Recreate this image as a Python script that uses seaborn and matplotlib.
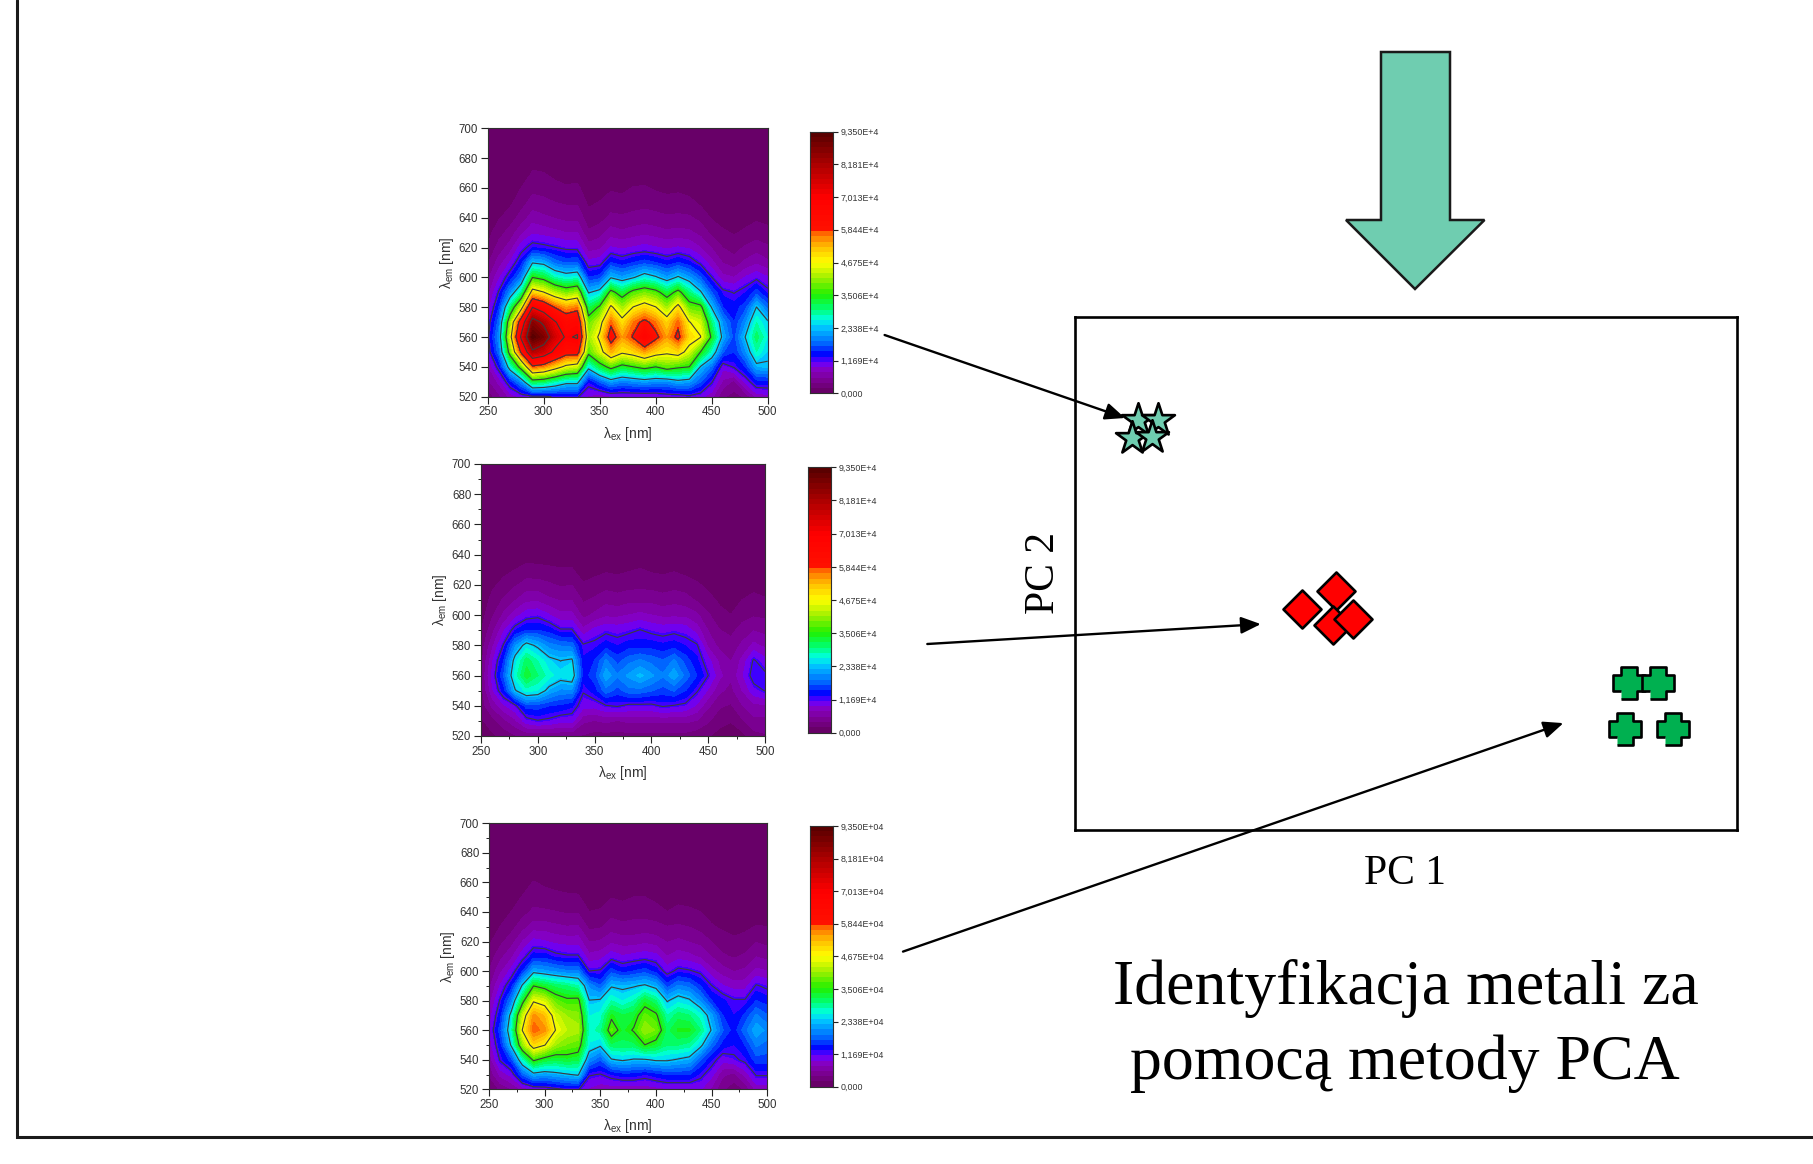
import numpy as np
import pandas as pd
import matplotlib
matplotlib.use("Agg")
import matplotlib.pyplot as plt
import seaborn as sns
from matplotlib.colors import LinearSegmentedColormap
from matplotlib.patches import Polygon
from matplotlib.ticker import MultipleLocator

W, H = 1813, 1164

# excitation / emission grid [nm]
ex = [250, 260, 270, 280, 290, 300, 310, 320, 330, 340, 350, 360, 370,
      380, 390, 400, 410, 420, 430, 440, 450, 460, 470, 480, 490, 500]
em = [520, 530, 540, 550, 560, 570, 580, 590, 600, 610, 620, 630, 640, 650, 660, 670, 700]

# intensity in units of 1E+3, one line per excitation wavelength
sample_a = [
    [2.5, 5, 7, 10, 11, 10, 8, 6.5, 5, 3.5, 2.0, 1.2, .6, .2, 0, 0, 0],
    [5, 8, 13, 18, 20, 18, 15, 12, 9, 6.5, 4.5, 3, 1.7, .8, .2, 0, 0],
    [8, 14, 26, 38, 44, 40, 30, 20, 13.5, 9.5, 6.5, 4.5, 2.8, 1.5, .6, .1, 0],
    [10, 20, 38, 60, 72, 64, 44, 29, 19, 14, 10.5, 7, 4.5, 3, 1.9, .8, 0],
    [11, 32, 57, 80, 93, 86, 70, 50, 35, 23, 13, 9, 6.6, 4.5, 3.2, 2, 0],
    [11, 31, 55, 76, 88, 80, 65, 47, 33, 22, 12.5, 8.5, 6, 4.2, 3, 1.9, 0],
    [12, 28, 50, 68, 76, 71, 58, 42, 28, 18, 11.8, 8, 5.5, 3.8, 2.5, 1.3, 0],
    [12, 25, 45, 62, 69, 64, 54, 39, 26, 16.5, 11, 7.5, 5, 3.5, 2.1, 1, 0],
    [12, 25, 43, 62, 71, 66, 56, 41, 27, 17, 10.8, 7.5, 5, 3.5, 2.3, 1, 0],
    [9, 13, 25, 37, 41, 38, 31, 23, 15, 10, 6.5, 4, 2.7, 1.5, .6, .1, 0],
    [8, 17, 32, 44, 48, 44, 36, 25, 16, 10.5, 7, 4.8, 3, 2, .9, .2, 0],
    [9, 21, 37, 53, 62, 57, 48, 37, 23, 15, 9.5, 6.5, 4.2, 2.8, 1.6, .4, 0],
    [9, 19, 33, 48, 54, 49, 41, 32, 21, 13.5, 9, 6, 4, 2.7, 1.3, .3, 0],
    [9, 20, 35, 50, 59, 56, 47, 37, 23, 15, 9.5, 6.5, 4.3, 3, 2, .6, 0],
    [9, 21, 37, 54, 67, 60, 50, 39, 26, 16, 10, 7, 4.5, 3.2, 2.1, .7, 0],
    [9, 20, 35, 50, 60, 56, 47, 37, 24, 15, 9.5, 6.5, 4.3, 2.9, 1.6, .4, 0],
    [10, 20, 38, 48, 54, 50, 41, 32, 21, 13.5, 9, 6, 4, 2.6, 1.3, .2, 0],
    [10, 22, 36, 50, 60, 57, 49, 37, 24, 15, 9.5, 6.3, 4.1, 2.8, 1.4, .3, 0],
    [11, 21, 35, 44, 50, 47, 38, 30, 21, 13.5, 9, 6, 4, 2.5, 1, .2, 0],
    [10, 17, 23, 35, 47, 44, 37, 24, 17, 11, 7.5, 5, 3.2, 1.5, .5, 0, 0],
    [8, 12, 18, 27, 34, 30, 23, 17, 11.8, 8, 5.5, 3.2, 1.7, .6, 0, 0, 0],
    [4, 7, 10, 17, 22, 20, 15, 12.5, 8, 5.5, 3.7, 2.2, 1, .3, 0, 0, 0],
    [3, 5, 12, 15, 16, 15, 14, 11.5, 7.5, 4.5, 3, 1.7, .7, 0, 0, 0, 0],
    [4, 10, 15, 20, 23.5, 20, 16, 13, 9.5, 6, 4, 2.2, 1.2, .3, 0, 0, 0],
    [8, 14, 22, 28, 31, 28, 23.5, 16, 11, 7, 4.8, 2.7, 1.6, .6, 0, 0, 0],
    [8.5, 14, 23, 24, 26, 24, 18, 12.5, 9.5, 6, 4, 2.4, 1.3, .4, 0, 0, 0],
]
sample_b = [
    [.5, 1.5, 2.5, 3, 3.5, 3, 2.5, 1.8, 1, .5, .1, 0, 0, 0, 0, 0, 0],
    [1.5, 3, 6, 9, 10, 9, 7, 5, 3.5, 2.5, 1.5, .7, .2, 0, 0, 0, 0],
    [2.5, 5, 9, 14, 17, 15, 12, 9, 6, 4, 2.5, 1.3, .4, 0, 0, 0, 0],
    [3.5, 7, 11, 23, 27, 25, 20, 13, 8.5, 5.5, 3.5, 1.9, .6, 0, 0, 0, 0],
    [4, 10.5, 16, 27, 33, 31, 25, 15, 10.5, 7, 4.5, 2.6, .8, 0, 0, 0, 0],
    [4, 11.5, 16, 26, 30, 28, 22.5, 15, 11, 7, 4.5, 2.5, .8, 0, 0, 0, 0],
    [4, 11, 15, 22, 27, 24.5, 19.5, 14, 9.5, 6, 4, 2.3, .6, 0, 0, 0, 0],
    [4, 10, 14.5, 20, 25, 23.3, 18.5, 12, 8, 5.5, 3.5, 2.1, .4, 0, 0, 0, 0],
    [4, 10, 13.5, 20, 26, 24, 18, 12, 8, 5.5, 3.7, 2.1, .4, 0, 0, 0, 0],
    [3.5, 6, 10, 12, 14, 13.5, 12, 8, 5, 3.5, 2.2, .4, 0, 0, 0, 0, 0],
    [3, 5.5, 10, 14, 16, 15, 12.5, 10, 6, 4, 2.8, 1, .1, 0, 0, 0, 0],
    [3, 6, 11.5, 18, 22, 19, 14, 11, 7, 5, 3, 1.6, .3, 0, 0, 0, 0],
    [3, 5.5, 12, 16, 19, 16, 13, 10.5, 7, 4.5, 2.8, 1.4, .2, 0, 0, 0, 0],
    [3, 6, 11, 18, 21, 18, 14, 11, 7.5, 5, 3, 1.7, .3, 0, 0, 0, 0],
    [3, 6, 11, 18, 23, 19, 14, 11.8, 8, 5, 3.2, 2, .4, 0, 0, 0, 0],
    [3, 6, 11, 17, 21, 18, 14, 11, 7.5, 5, 3, 1.6, .2, 0, 0, 0, 0],
    [3, 6, 12, 16, 19, 17, 13.5, 10.5, 7, 4.5, 2.8, 1.4, .1, 0, 0, 0, 0],
    [3, 6, 11.5, 17, 22, 19, 14, 11, 7, 5, 3, 1.7, .3, 0, 0, 0, 0],
    [3, 6, 11, 15, 18, 16, 13, 10.5, 7, 4.5, 2.8, 1.2, .1, 0, 0, 0, 0],
    [2.5, 5.5, 9, 12, 15, 13.5, 12, 8.5, 6, 3.5, 2.2, .8, 0, 0, 0, 0, 0],
    [2, 4, 6, 9, 11.7, 10, 7, 5.5, 4, 2.6, 1.3, .3, 0, 0, 0, 0, 0],
    [1.2, 2.5, 4, 6, 8, 7, 5, 3.8, 2.5, 1.5, .6, 0, 0, 0, 0, 0, 0],
    [.8, 2, 3.5, 5, 6, 5.5, 4.5, 3.2, 1.9, 1, .2, 0, 0, 0, 0, 0, 0],
    [1.2, 3.5, 5.5, 7.5, 9, 8, 6, 4.5, 3, 1.9, .8, 0, 0, 0, 0, 0, 0],
    [3, 5, 7, 10.5, 13, 12, 8, 5.5, 3.5, 2.4, 1.3, .2, 0, 0, 0, 0, 0],
    [3.5, 5, 7, 11.8, 12.3, 10, 7, 5, 3.3, 2.1, .8, .1, 0, 0, 0, 0, 0],
]
sample_c = [
    [2, 4, 6, 8, 9, 8, 6.5, 5, 3.8, 2.5, 1.5, .8, .2, 0, 0, 0, 0],
    [4, 8, 12, 14, 16, 14, 12, 9.5, 7, 5, 3.2, 1.9, 1, .3, 0, 0, 0],
    [5.5, 10, 16, 24, 27, 25, 19, 14, 10, 7, 4.8, 3, 1.9, 1, .2, 0, 0],
    [8, 17, 27, 40, 47, 43, 33, 24, 15, 10.5, 7.5, 4.8, 3, 2, .8, 0, 0],
    [9.5, 22, 36, 50, 57.5, 55, 46, 35, 22, 14, 10, 6.5, 4.2, 2.8, 2, .6, 0],
    [10, 21, 33, 47, 55, 52, 44, 33, 21, 14, 9.5, 6.5, 4, 2.7, 1.5, .4, 0],
    [11, 22, 32, 41, 46.5, 44, 38, 31, 20, 12.5, 8.8, 6, 3.8, 2.4, 1.2, .2, 0],
    [12, 23, 33, 39, 43, 41, 36, 30, 19, 12, 8.5, 5.7, 3.5, 2.2, 1, .1, 0],
    [12, 24, 32, 38, 42, 40, 36.5, 28, 19, 12, 8.5, 5.8, 3.5, 2.1, 1, .1, 0],
    [9, 12, 20, 26, 27, 26, 23.5, 20, 11.7, 8, 5.5, 3.3, 1.9, .9, .2, 0, 0],
    [8, 11.5, 17, 24, 29, 27, 24, 17, 12, 8.5, 5.8, 3.5, 2.1, 1, .2, 0, 0],
    [8, 13, 23, 31, 38, 34, 28, 23, 16, 10.5, 7, 4.7, 3, 1.8, .7, 0, 0],
    [8, 14, 24, 31, 33, 32, 26, 22.5, 14, 9.5, 6.5, 4.2, 2.8, 1.5, .5, 0, 0],
    [8, 14, 23, 31, 35.5, 33, 28, 23, 15, 10, 6.5, 4.4, 3, 1.9, .5, 0, 0],
    [8, 13, 23, 35, 41, 38, 33, 24, 16, 10.5, 7, 4.5, 3, 1.9, .7, 0, 0],
    [8.5, 14, 24, 33, 39, 36, 30, 22, 14, 10, 6.5, 4.3, 2.6, 1.4, .4, 0, 0],
    [9, 15, 24, 30, 31, 28, 23, 16, 10.5, 7.5, 5.5, 3.8, 1.9, 1, .2, 0, 0],
    [9, 15, 23, 30, 34, 31, 25.5, 19, 12.5, 8.5, 6, 4, 2.4, 1.3, .3, 0, 0],
    [9, 15, 22, 29, 34, 30, 24, 18, 12, 8, 5.5, 3.7, 2.3, 1, .1, 0, 0],
    [9.5, 12.5, 17, 24.5, 30, 27, 20, 15, 11, 7, 5, 3, 1.9, .6, 0, 0, 0],
    [7, 10, 13, 18, 23, 21, 15, 11.8, 8, 5.5, 3.7, 2.1, 1, .2, 0, 0, 0],
    [4, 6, 10, 14, 17, 15, 13.5, 9.5, 6.5, 4, 2.9, 1.5, .4, 0, 0, 0, 0],
    [2.5, 5, 11, 13, 14, 13, 12, 8.5, 5.5, 3.5, 2.3, 1.1, .2, 0, 0, 0, 0],
    [4, 8, 12.5, 15, 18, 15.5, 12, 8.5, 6, 4, 2.7, 1.4, .3, 0, 0, 0, 0],
    [8, 12, 16, 19, 22, 19, 15, 12, 8, 5.5, 3.6, 2, .6, 0, 0, 0, 0],
    [8, 12, 16, 18, 20, 17, 14, 11, 7.5, 5, 3.2, 1.9, .4, 0, 0, 0, 0],
]

cbar_values = [0, 11.69, 23.38, 35.06, 46.75, 58.44, 70.13, 81.81, 93.5]
cbar_labels_4 = ["0,000", "1,169E+4", "2,338E+4", "3,506E+4", "4,675E+4",
                 "5,844E+4", "7,013E+4", "8,181E+4", "9,350E+4"]
cbar_labels_04 = ["0,000", "1,169E+04", "2,338E+04", "3,506E+04", "4,675E+04",
                  "5,844E+04", "7,013E+04", "8,181E+04", "9,350E+04"]

# PCA scores, arbitrary units
pc_df = pd.DataFrame({
    "pc1": [9.5, 12.6, 8.6, 11.6, 34.3, 39.5, 39.0, 42.0, 83.7, 88.0, 83.1, 90.4],
    "pc2": [79.9, 79.9, 76.5, 76.6, 43.1, 46.6, 40.0, 41.1, 28.6, 28.6, 19.7, 19.7],
    "group": ["a"] * 4 + ["b"] * 4 + ["c"] * 4,
})

sns.set_theme(style="white")
plt.rcParams["font.family"] = ["Liberation Sans", "DejaVu Sans"]
plt.rcParams["mathtext.fontset"] = "custom"
plt.rcParams["mathtext.rm"] = "Liberation Sans"
plt.rcParams["mathtext.it"] = "Liberation Sans"
plt.rcParams["mathtext.default"] = "regular"

rainbow = LinearSegmentedColormap.from_list("origin", [
    (0.00, "#680068"), (0.04, "#7a0090"), (0.08, "#8500c0"), (0.11, "#6a00ff"),
    (0.14, "#0000ff"), (0.18, "#0060ff"), (0.25, "#00c8ff"), (0.28, "#00ffe0"),
    (0.32, "#00ff70"), (0.375, "#20f000"), (0.44, "#a0f000"), (0.50, "#ffff00"),
    (0.56, "#ffc000"), (0.60, "#ff8000"), (0.622, "#ff5000"), (0.63, "#ff1000"),
    (0.75, "#ff0000"), (0.875, "#b00000"), (1.00, "#5a0000")], N=50)
levels = np.linspace(0, 93.5, 51)
ink = "#333333"


def px_axes(x0, y0, x1, y1):
    return fig.add_axes([x0 / W, 1 - y1 / H, (x1 - x0) / W, (y1 - y0) / H])


def emission_map(values, box, cbox, labels, minor=True):
    ax = px_axes(*box)
    z = np.array(values).T
    ax.contourf(ex, em, z, levels=levels, cmap=rainbow, vmin=0, vmax=93.5)
    ax.contour(ex, em, z, levels=cbar_values[1:-1], colors="#3c3c3c", linewidths=0.8)
    ax.set_xlim(250, 500)
    ax.set_ylim(520, 700)
    ax.xaxis.set_major_locator(MultipleLocator(50))
    ax.yaxis.set_major_locator(MultipleLocator(20))
    if minor:
        ax.xaxis.set_minor_locator(MultipleLocator(25))
        ax.yaxis.set_minor_locator(MultipleLocator(10))
    ax.tick_params(which="major", length=5, width=0.8, color="#222222", labelsize=8.3,
                   labelcolor=ink, bottom=True, left=True, pad=2)
    ax.tick_params(which="minor", length=2.5, width=0.7, color="#222222", bottom=True, left=True)
    ax.set_xlabel(r"$\lambda_{ex}$ [nm]", fontsize=10, color=ink, labelpad=4.5)
    ax.set_ylabel(r"$\lambda_{em}$ [nm]", fontsize=10, color=ink, labelpad=2)
    for s in ax.spines.values():
        s.set_color("#303030")
        s.set_linewidth(0.8)
    # colour scale as a one column heatmap
    cax = px_axes(*cbox)
    scale = pd.DataFrame(np.linspace(93.5, 0, 50).reshape(-1, 1))
    sns.heatmap(scale, ax=cax, cmap=rainbow, vmin=0, vmax=93.5, cbar=False,
                xticklabels=False, yticklabels=False)
    cax.set_xlabel("")
    cax.set_ylabel("")
    cax.yaxis.tick_right()
    cax.set_yticks([50 * (1 - v / 93.5) for v in cbar_values])
    cax.set_yticklabels(labels, rotation=0)
    cax.tick_params(axis="y", right=True, left=False, length=3.5, width=0.8, color="#222222",
                    labelsize=6.4, labelcolor=ink, pad=2)
    for s in cax.spines.values():
        s.set_visible(True)
        s.set_color("#303030")
        s.set_linewidth(0.8)
    return ax


fig = plt.figure(figsize=(W / 100, H / 100), dpi=100, facecolor="white")

emission_map(sample_a, (487.7, 128.3, 767.7, 396.7), (810, 131.7, 832.7, 393.3), cbar_labels_4, minor=False)
emission_map(sample_b, (481, 464, 765, 736), (808.3, 467.3, 830.7, 732.7), cbar_labels_4)
emission_map(sample_c, (489, 823.3, 767.3, 1089.3), (810, 826, 832.7, 1086.7), cbar_labels_04)

# PCA box
pc_ax = px_axes(1075, 317, 1737, 830)
plus = [(-.54, -1), (.54, -1), (.54, -.52), (1, -.52), (1, .52), (.54, .52),
        (.54, 1), (-.54, 1), (-.54, .52), (-1, .52), (-1, -.52), (-.54, -.52)]
group_style = [("a", "#6fcdb0", "*", 620), ("b", "#ff0000", "D", 375), ("c", "#00b050", plus, 510)]
for name, colour, mark, size in group_style:
    sns.scatterplot(data=pc_df[pc_df["group"] == name], x="pc1", y="pc2", ax=pc_ax, color=colour,
                    marker=mark, s=size, edgecolor="black", linewidth=1.9, legend=False, clip_on=False)
pc_ax.set_xlim(0, 100)
pc_ax.set_ylim(0, 100)
pc_ax.set_xticks([])
pc_ax.set_yticks([])
pc_ax.set_xlabel("")
pc_ax.set_ylabel("")
for s in pc_ax.spines.values():
    s.set_visible(True)
    s.set_color("black")
    s.set_linewidth(1.9)

# slide decoration in figure pixels
over = fig.add_axes([0, 0, 1, 1], facecolor="none")
over.set_xlim(0, W)
over.set_ylim(H, 0)
over.axis("off")
over.plot([17, 17, W], [0, 1137, 1137], color="#1a1a1a", lw=2.2, solid_joinstyle="miter")
over.add_patch(Polygon([(1381, 52), (1450, 52), (1450, 220), (1484.5, 220), (1415, 289),
                        (1346, 220), (1381, 220)], closed=True, facecolor="#6fcdb0",
                       edgecolor="#1a1a1a", linewidth=1.8))
arrow_runs = [((884.6, 335), (1125, 418)), ((927.3, 644), (1260.8, 624.1)), ((903, 951.6), (1563.4, 723.1))]
for start, tip in arrow_runs:
    over.annotate("", xy=tip, xytext=start,
                  arrowprops=dict(arrowstyle="-|>,head_length=0.75,head_width=0.32", color="black",
                                  lw=1.7, shrinkA=0, shrinkB=0, mutation_scale=16))

serif = ["Liberation Serif", "DejaVu Serif"]
over.text(1043.7, 573, "PC 2", rotation=90, ha="center", va="center", fontsize=30, family=serif, color="black")
over.text(1405, 873.5, "PC 1", ha="center", va="center", fontsize=30, family=serif, color="black")
over.text(1405.5, 989, "Identyfikacja metali za", ha="center", va="center", fontsize=46, family=serif, color="black")
over.text(1405, 1064, "pomocą metody PCA", ha="center", va="center", fontsize=46, family=serif, color="black")

fig.savefig("out.png", dpi=100)
